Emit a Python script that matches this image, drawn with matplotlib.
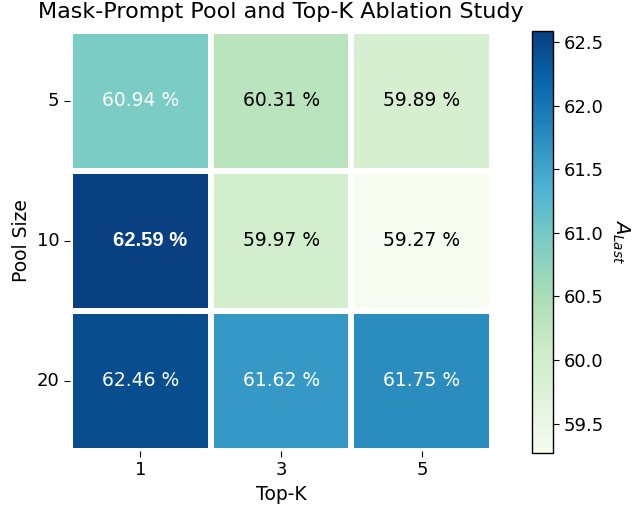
import matplotlib
matplotlib.use("Agg")
import matplotlib.pyplot as plt
import numpy as np
import seaborn as sns

pool_sizes = ["5", "10", "20"]
top_k = ["1", "3", "5"]
acc_last = np.array([
    [60.94, 60.31, 59.89],
    [62.59, 59.97, 59.27],
    [62.46, 61.62, 61.75],
])

fig = plt.figure(figsize=(6.36, 5.14), dpi=100)
ax = fig.add_axes([0.110, 0.123, 0.664, 0.817])
cax = fig.add_axes([0.836, 0.119, 0.034, 0.821])

labels = np.array([[f"{v:.2f} %" for v in row] for row in acc_last])
sns.heatmap(acc_last, ax=ax, cbar_ax=cax, cmap="GnBu", annot=labels, fmt="",
            linewidths=3, linecolor="white",
            annot_kws={"fontsize": 13.5},
            xticklabels=top_k, yticklabels=pool_sizes)

# white text on dark cells, bold for the best setting
best = labels[np.unravel_index(np.argmax(acc_last), acc_last.shape)]
for t, v in zip(ax.texts, acc_last.ravel()):
    t.set_color("white" if v > 60.5 else "black")
    if t.get_text() == best:
        t.set_fontproperties({"family": "Liberation Sans", "weight": "bold", "size": 14.5})
        x, y = t.get_position()
        t.set_position((x + 0.07, y))

ax.set_title("Mask-Prompt Pool and Top-K Ablation Study", fontsize=16, pad=9)
ax.set_xlabel("Top-K", fontsize=13.5)
ax.set_ylabel("Pool Size", fontsize=13.5)
ax.tick_params(labelsize=13, length=4)
ax.set_yticklabels(pool_sizes, rotation=0)

cbar = ax.collections[0].colorbar
cbar.outline.set_visible(True)
cbar.outline.set_edgecolor("black")
cbar.outline.set_linewidth(1.0)
cbar.ax.tick_params(labelsize=13, length=4)
cbar.set_label("$A_{Last}$", rotation=270, labelpad=20, fontsize=14)

fig.savefig("out.png", dpi=100)
